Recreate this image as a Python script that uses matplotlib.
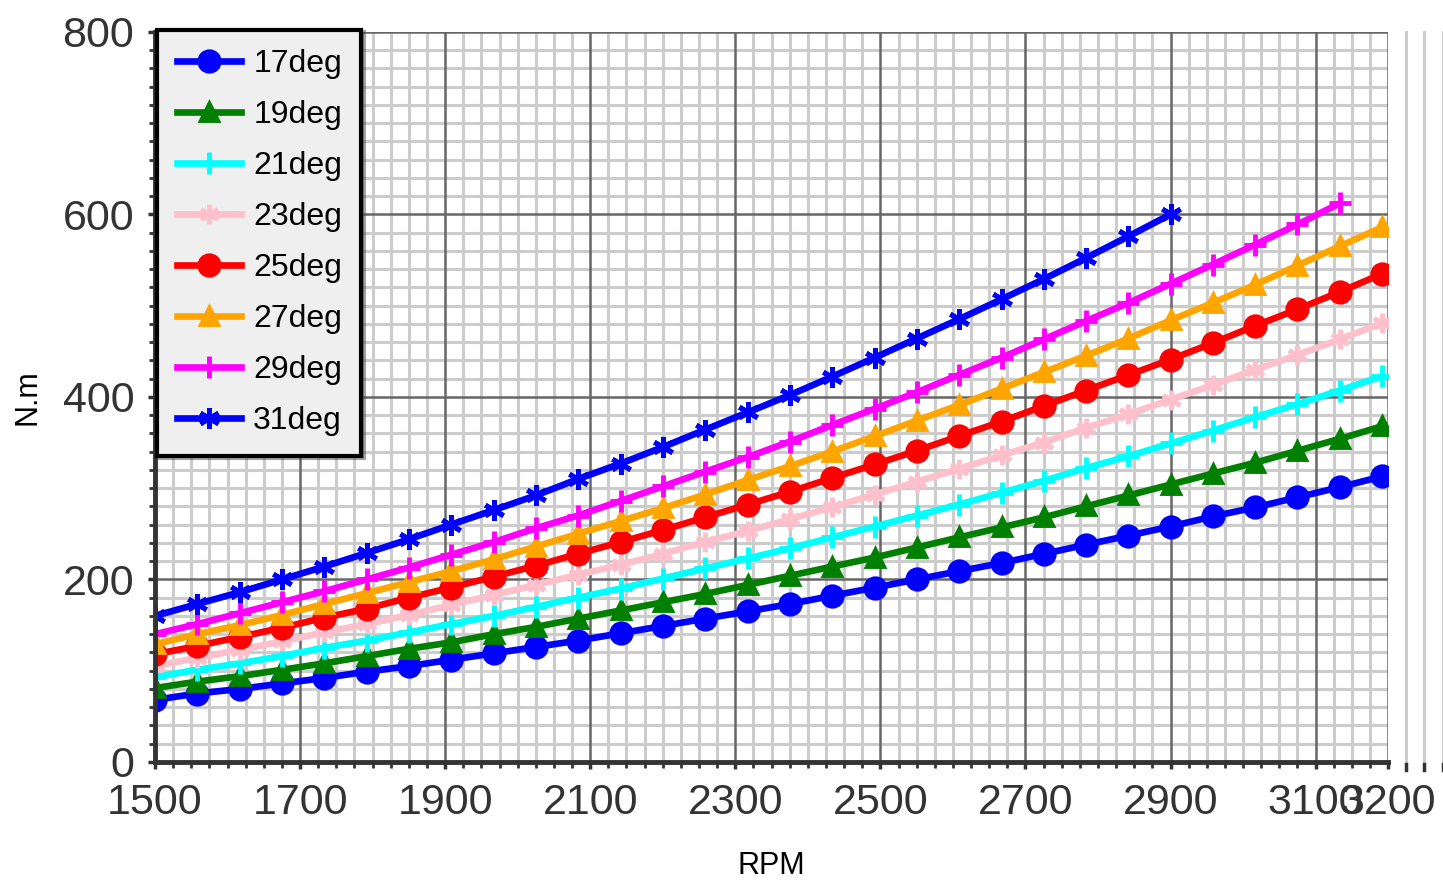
import matplotlib
matplotlib.use("Agg")
import matplotlib.pyplot as plt
from matplotlib.ticker import FixedLocator, MultipleLocator

plt.rcParams['font.family'] = ['Liberation Sans', 'DejaVu Sans']

# ── DATA ────────────────────────────────────────────────────
rpm = [1500, 1558, 1617, 1675, 1733, 1792, 1850, 1908, 1967, 2025,
       2083, 2142, 2200, 2258, 2317, 2375, 2433, 2492, 2550, 2608,
       2667, 2725, 2783, 2842, 2900, 2958, 3017, 3075, 3133, 3192]

t17 = [68, 75, 80, 86, 92, 99, 105, 112, 119, 126, 133, 141, 149, 157, 165,
       173, 182, 191, 200, 209, 218, 228, 238, 248, 258, 269, 279, 290, 301, 313]
t19 = [81, 88, 94, 101, 108, 116, 124, 131, 140, 148, 157, 166, 175, 184, 194,
       204, 214, 224, 235, 246, 257, 268, 280, 292, 304, 316, 328, 341, 354, 368]
t21 = [93, 101, 108, 116, 125, 133, 142, 151, 160, 170, 180, 190, 201, 212, 223,
       234, 246, 258, 270, 282, 295, 308, 322, 335, 349, 363, 378, 392, 407, 423]
t23 = [105, 114, 123, 132, 142, 151, 161, 172, 183, 194, 205, 216, 228, 241, 253,
       266, 279, 293, 307, 321, 336, 350, 366, 381, 397, 413, 430, 446, 463, 481]
t25 = [118, 127, 137, 147, 158, 168, 180, 191, 203, 215, 228, 241, 254, 268, 282,
       296, 311, 326, 341, 357, 373, 390, 407, 424, 441, 459, 478, 496, 515, 535]
t27 = [129, 140, 150, 161, 173, 185, 197, 209, 222, 236, 250, 264, 278, 293, 309,
       324, 340, 357, 374, 391, 409, 427, 445, 464, 484, 503, 523, 544, 565, 586]
t29 = [140, 151, 163, 175, 187, 200, 213, 227, 241, 256, 270, 286, 302, 318, 334,
       351, 369, 387, 405, 424, 443, 463, 483, 503, 524, 545, 567, 589, 612]
t31 = [160, 173, 186, 200, 214, 229, 244, 260, 276, 292, 310, 327, 345, 364, 383,
       402, 422, 443, 464, 485, 507, 529, 552, 576, 600]

labels = ['17deg', '19deg', '21deg', '23deg', '25deg', '27deg', '29deg', '31deg']
series = [t17, t19, t21, t23, t25, t27, t29, t31]
colors = ['blue', 'green', 'cyan', 'pink', 'red', 'orange', 'magenta', 'blue']
markers = ['o', '^', '+', (6, 2, 0), 'o', '^', '+', (6, 2, 0)]
msizes = [14, 12, 16, 14, 14, 12, 16, 15]

xticks = [1500, 1700, 1900, 2100, 2300, 2500, 2700, 2900, 3100, 3200]
yticks = [0, 200, 400, 600, 800]

# ── CHART ───────────────────────────────────────────────────
fig = plt.figure(figsize=(14.43, 8.86), dpi=100)
ax = fig.add_axes([0.1074, 0.140, 0.8546, 0.824])

for y, c, m, ms, lab in zip(series, colors, markers, msizes, labels):
    ax.plot(rpm[:len(y)], y, color=c, marker=m, markersize=ms,
            markeredgewidth=3.5, linewidth=4.8, label=lab, zorder=3)

ax.set_xlim(1500, 3200)
ax.set_ylim(0, 800)
ax.xaxis.set_major_locator(FixedLocator(xticks))
ax.xaxis.set_minor_locator(MultipleLocator(25))
ax.yaxis.set_major_locator(FixedLocator(yticks))
ax.yaxis.set_minor_locator(MultipleLocator(20))

# light minor grid underneath, darker major grid on top of it
ax.grid(which='minor', color='#cccccc', linewidth=2.2)
ax.set_axisbelow(True)
for xv in xticks:
    ax.axvline(xv, color='#666666', linewidth=1.8, zorder=1)
for yv in yticks:
    ax.axhline(yv, color='#666666', linewidth=1.8, zorder=1)

for s in ['top', 'right']:
    ax.spines[s].set_visible(False)
for s in ['left', 'bottom']:
    ax.spines[s].set_color('#333333')
    ax.spines[s].set_linewidth(3.5)
    ax.spines[s].set_zorder(4)

ax.tick_params(which='major', direction='out', length=5, width=2.5,
               color='#333333', labelsize=31, labelcolor='#333333', pad=10)
ax.tick_params(which='minor', direction='out', length=4, width=2,
               color='#333333')

ax.set_xlabel('RPM', fontsize=22, labelpad=20)
ax.set_ylabel('N.m', fontsize=22, labelpad=14)

# grid stubs spilling past the right edge, as in the reference
for xv in [3225, 3250, 3275]:
    ax.plot([xv, xv], [0, 800], color='#cccccc', linewidth=2.2,
            clip_on=False, zorder=0)
    ax.plot([xv, xv], [-2, -9], color='#333333', linewidth=2.5,
            clip_on=False)

leg = ax.legend(loc='upper left', bbox_to_anchor=(0.002, 1.003),
                borderaxespad=0, fontsize=23, fancybox=False, shadow=True,
                framealpha=1, facecolor='#efefef', edgecolor='black',
                handlelength=2.0, handletextpad=0.4, labelspacing=0.66,
                borderpad=0.6)
leg.get_frame().set_linewidth(3)
leg.set_zorder(5)

plt.savefig("out.png", dpi=100)
plt.close()
